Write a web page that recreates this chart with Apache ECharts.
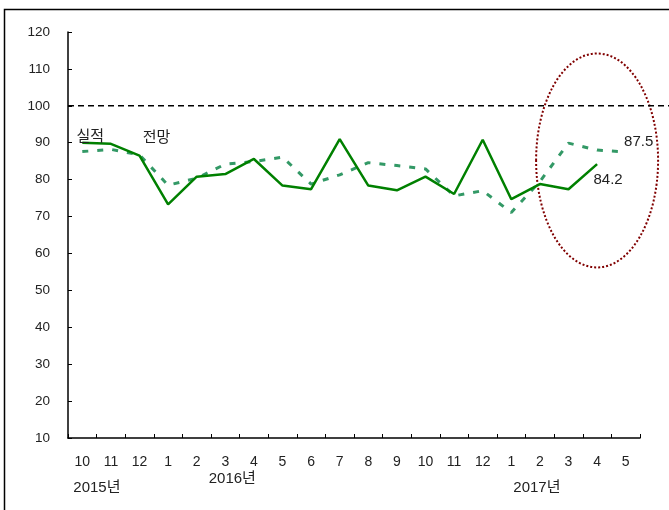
<!DOCTYPE html>
<html>
<head>
<meta charset="utf-8">
<script src="https://cdn.jsdelivr.net/npm/echarts@6/dist/echarts.min.js"></script>
<style>html,body{margin:0;padding:0;background:#fff}#c{width:669px;height:510px}</style>
</head>
<body>
<div id="c"></div>
<script>
// ---- data ----
const categories = ['2015-10','2015-11','2015-12','2016-01','2016-02','2016-03','2016-04','2016-05','2016-06','2016-07','2016-08','2016-09','2016-10','2016-11','2016-12','2017-01','2017-02','2017-03','2017-04','2017-05'];
const monthLabels = ['10','11','12','1','2','3','4','5','6','7','8','9','10','11','12','1','2','3','4','5'];
const actual   = [90.0, 89.7, 86.5, 73.3, 80.8, 81.5, 85.6, 78.4, 77.4, 91.0, 78.4, 77.1, 80.8, 76.1, 90.8, 74.7, 78.8, 77.4, 84.2, null];
const forecast = [87.6, 88.2, 86.7, 78.5, 80.4, 84.2, 84.9, 86.1, 78.8, 81.3, 84.6, 83.8, 82.9, 75.6, 77.0, 71.1, 79.5, 89.9, 88.0, 87.5];
const yTicks = [10, 120, 10]; // min, max, interval
const refValue = 100;
const yearLabels = [{idx: 0, text: '2015년', dx: -9, dy: 50, align: 'left'},
                    {idx: 5, text: '2016년', dx: 7, dy: 41, align: 'center'},
                    {idx: 16, text: '2017년', dx: -3, dy: 50, align: 'center'}];

const FONT = "'Liberation Sans', 'Noto Sans CJK KR', sans-serif";
const chart = echarts.init(document.getElementById('c'));

const lbl = (text, position, offset) => ({show: true, formatter: text, position: position, distance: 0, offset: offset});
const actualData = actual.map((v, i) => {
  if (i === 0) return {value: v, label: lbl('실적', 'top', [8, 3])};
  if (i === 18) return {value: v, label: lbl('84.2', 'bottom', [11, 7])};
  return v;
});
const forecastData = forecast.map((v, i) => {
  if (i === 2) return {value: v, label: lbl('전망', 'top', [17, -9])};
  if (i === 19) return {value: v, label: lbl('87.5', 'top', [13, -2])};
  return v;
});

chart.setOption({
  animation: false,
  grid: [
    {left: 68, right: 29, top: 32, bottom: 72},
    {left: 68, right: 0, top: 32, bottom: 72}
  ],
  xAxis: [
    {
      type: 'category', gridIndex: 0, data: categories, boundaryGap: true,
      axisLine: {lineStyle: {color: '#000', width: 1.5}},
      axisTick: {show: true, inside: true, length: 4, lineStyle: {color: '#000'}, interval: 0},
      axisLabel: {interval: 0, margin: 17, color: '#222', fontSize: 14, fontFamily: FONT,
                  formatter: (v, i) => monthLabels[i]},
      splitLine: {show: false}
    },
    {type: 'value', gridIndex: 1, min: 0, max: 1, show: false}
  ],
  yAxis: [
    {
      type: 'value', gridIndex: 0, min: yTicks[0], max: yTicks[1], interval: yTicks[2],
      axisLine: {show: true, lineStyle: {color: '#000', width: 1.5}},
      axisTick: {show: true, inside: true, length: 4, lineStyle: {color: '#000'}},
      axisLabel: {margin: 18, color: '#222', fontSize: 13.5, fontFamily: FONT},
      splitLine: {show: false}
    },
    {type: 'value', gridIndex: 1, min: yTicks[0], max: yTicks[1], show: false}
  ],
  series: [
    {
      type: 'line', xAxisIndex: 1, yAxisIndex: 1, data: [[0, refValue], [1, refValue]],
      symbol: 'none', lineStyle: {color: '#000', width: 1.5, type: [6, 4]}, silent: true
    },
    {
      name: '전망', type: 'line', data: forecastData,
      symbol: 'circle', symbolSize: 2, showSymbol: true,
      itemStyle: {color: 'rgba(0,0,0,0)', borderWidth: 0},
      lineStyle: {color: '#339966', width: 3, type: [6, 9]},
      label: {color: '#222', fontSize: 15, fontFamily: FONT}
    },
    {
      name: '실적', type: 'line', data: actualData,
      symbol: 'circle', symbolSize: 2, showSymbol: true,
      itemStyle: {color: 'rgba(0,0,0,0)', borderWidth: 0},
      lineStyle: {color: '#008000', width: 2.5},
      label: {color: '#222', fontSize: 15, fontFamily: FONT}
    }
  ]
});

// annotations: frame, ellipse, year labels
const g = [];
g.push({type: 'rect', shape: {x: 4.5, y: 9.5, width: 720, height: 600}, style: {fill: 'none', stroke: '#000', lineWidth: 1.5}, z: -1});
const c = chart.convertToPixel({xAxisIndex: 0, yAxisIndex: 0}, [18, 85.2]);
g.push({type: 'ellipse', shape: {cx: c[0], cy: c[1], rx: 61, ry: 107},
        style: {fill: 'none', stroke: '#800000', lineWidth: 2, lineDash: [2, 2]}});
yearLabels.forEach(y => {
  const p = chart.convertToPixel({xAxisIndex: 0, yAxisIndex: 0}, [y.idx, yTicks[0]]);
  g.push({type: 'text', x: p[0] + y.dx, y: p[1] + y.dy,
          style: {text: y.text, fill: '#222', font: '15px ' + FONT, textAlign: y.align, textVerticalAlign: 'middle'}});
});
chart.setOption({graphic: g});
</script>
</body>
</html>
